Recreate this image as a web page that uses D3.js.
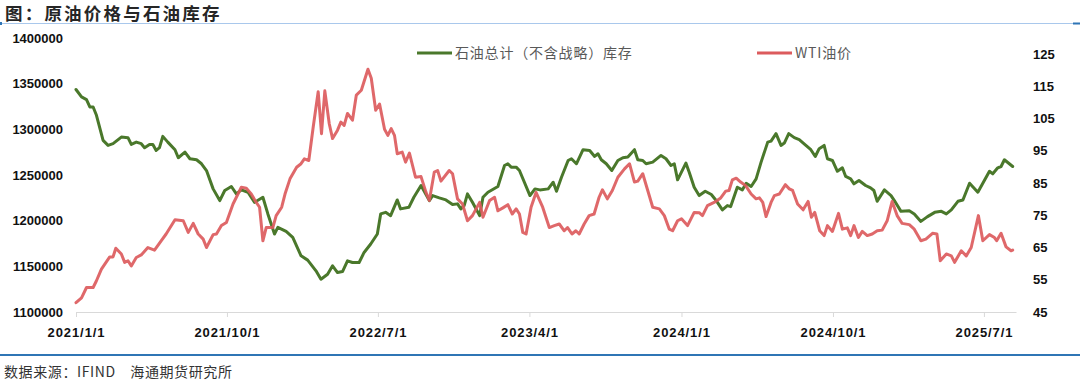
<!DOCTYPE html>
<html><head><meta charset="utf-8">
<script src="https://cdn.jsdelivr.net/npm/d3@7"></script>
<style>body{margin:0;background:#fff;} svg{display:block;}</style>
</head><body>
<svg id="c" width="1080" height="380"></svg>
<script>
const title = "图：原油价格与石油库存";
const source = "数据来源：IFIND\u3000海通期货研究所";
const seriesNames = ["石油总计（不含战略）库存", "WTI油价"];
const xTickLabels = ["2021/1/1","2021/10/1","2022/7/1","2023/4/1","2024/1/1","2024/10/1","2025/7/1"];
const leftTicks = [1100000,1150000,1200000,1250000,1300000,1350000,1400000];
const rightTicks = [45,55,65,75,85,95,105,115,125];

const invDates = ["2021-01-01","2021-01-11","2021-01-20","2021-01-26","2021-02-01","2021-02-07","2021-02-19","2021-02-28","2021-03-09","2021-03-24","2021-04-05","2021-04-11","2021-04-20","2021-04-29","2021-05-05","2021-05-14","2021-05-20","2021-05-26","2021-06-01","2021-06-07","2021-06-16","2021-06-29","2021-07-05","2021-07-17","2021-07-26","2021-08-07","2021-08-16","2021-08-25","2021-09-06","2021-09-18","2021-09-27","2021-10-09","2021-10-18","2021-10-27","2021-11-08","2021-11-20","2021-12-05","2021-12-14","2021-12-26","2022-01-01","2022-01-16","2022-01-28","2022-02-12","2022-02-24","2022-03-11","2022-03-20","2022-04-01","2022-04-10","2022-04-19","2022-04-28","2022-05-07","2022-05-16","2022-05-28","2022-06-06","2022-06-18","2022-06-30","2022-07-06","2022-07-15","2022-07-24","2022-08-05","2022-08-11","2022-08-26","2022-09-04","2022-09-17","2022-10-02","2022-10-08","2022-10-20","2022-11-01","2022-11-13","2022-11-22","2022-11-28","2022-12-04","2022-12-10","2022-12-19","2023-01-01","2023-01-07","2023-01-16","2023-02-03","2023-02-15","2023-02-21","2023-02-27","2023-03-08","2023-03-14","2023-04-02","2023-04-11","2023-04-20","2023-05-05","2023-05-14","2023-05-20","2023-05-29","2023-06-10","2023-06-16","2023-06-25","2023-07-07","2023-07-19","2023-07-28","2023-08-03","2023-08-09","2023-08-18","2023-08-28","2023-09-08","2023-09-17","2023-09-26","2023-10-08","2023-10-14","2023-10-23","2023-10-29","2023-11-10","2023-11-25","2023-12-04","2023-12-13","2023-12-19","2023-12-25","2024-01-09","2024-01-15","2024-01-24","2024-02-02","2024-02-13","2024-02-24","2024-03-03","2024-03-15","2024-03-24","2024-03-30","2024-04-11","2024-04-20","2024-04-27","2024-05-06","2024-05-15","2024-05-24","2024-06-05","2024-06-11","2024-06-20","2024-06-29","2024-07-05","2024-07-13","2024-07-23","2024-08-01","2024-08-13","2024-08-22","2024-08-30","2024-09-06","2024-09-15","2024-09-21","2024-09-30","2024-10-09","2024-10-18","2024-10-24","2024-11-02","2024-11-08","2024-11-17","2024-11-29","2024-12-08","2024-12-14","2024-12-20","2025-01-02","2025-01-14","2025-01-20","2025-02-01","2025-02-16","2025-02-25","2025-03-09","2025-03-21","2025-04-03","2025-04-15","2025-04-24","2025-05-03","2025-05-15","2025-05-24","2025-06-05","2025-06-20","2025-06-29","2025-07-11","2025-07-17","2025-07-26","2025-08-01","2025-08-07","2025-08-22"];
const invValues = [1343600,1335500,1332600,1324500,1324500,1315400,1287900,1282400,1284300,1291500,1290900,1283500,1286000,1284300,1279900,1283500,1283500,1276900,1279900,1292300,1286000,1277700,1268900,1275100,1267800,1266700,1262300,1254900,1234800,1222000,1233000,1237400,1229300,1233700,1231100,1220100,1225600,1207400,1185400,1192600,1188200,1181600,1161500,1156800,1145100,1135900,1141400,1150600,1143200,1144300,1156000,1154200,1154200,1165200,1174400,1185400,1207400,1209100,1205500,1222700,1212900,1214600,1225600,1238500,1222000,1227500,1225000,1222700,1217600,1218400,1212900,1216500,1229300,1220100,1205500,1225600,1231100,1237400,1260400,1262300,1258600,1258600,1254900,1227500,1234800,1233700,1234800,1242100,1232200,1247600,1265900,1267800,1262300,1277700,1276900,1270300,1273300,1266700,1262300,1254900,1265900,1268900,1269600,1277700,1266700,1265900,1262300,1264100,1271400,1267800,1260400,1262300,1244700,1263000,1253100,1236600,1227500,1232200,1228600,1222700,1211800,1216500,1215400,1236600,1233700,1241000,1237400,1245800,1264100,1286000,1287100,1295300,1282400,1285000,1295300,1290900,1288700,1282400,1277700,1270300,1278800,1282400,1267800,1265900,1254100,1257900,1248400,1245800,1240300,1244000,1238500,1235900,1233000,1221200,1233700,1227500,1222000,1210200,1210900,1207400,1199200,1204400,1209100,1210200,1207400,1211800,1221200,1222700,1241000,1231100,1241000,1254100,1251300,1257900,1259300,1266700,1259300];

const wtiDates = ["2021-01-01","2021-01-11","2021-01-20","2021-02-01","2021-02-07","2021-02-16","2021-03-03","2021-03-09","2021-03-14","2021-03-24","2021-03-30","2021-04-05","2021-04-11","2021-04-20","2021-04-29","2021-05-11","2021-05-23","2021-06-04","2021-06-13","2021-06-29","2021-07-14","2021-07-23","2021-08-01","2021-08-10","2021-08-19","2021-08-25","2021-09-06","2021-09-12","2021-09-21","2021-09-30","2021-10-12","2021-10-27","2021-11-05","2021-11-14","2021-11-23","2021-11-29","2021-12-05","2021-12-11","2021-12-23","2021-12-29","2022-01-08","2022-01-14","2022-01-23","2022-02-04","2022-02-12","2022-02-18","2022-02-26","2022-03-06","2022-03-15","2022-03-21","2022-03-27","2022-04-04","2022-04-10","2022-04-19","2022-04-25","2022-05-01","2022-05-07","2022-05-16","2022-05-23","2022-06-01","2022-06-13","2022-06-19","2022-06-27","2022-07-04","2022-07-13","2022-07-19","2022-07-25","2022-07-31","2022-08-05","2022-08-14","2022-08-20","2022-08-27","2022-09-07","2022-09-17","2022-09-26","2022-10-02","2022-10-11","2022-10-17","2022-10-23","2022-11-07","2022-11-13","2022-11-22","2022-12-01","2022-12-10","2022-12-19","2023-01-01","2023-01-07","2023-01-19","2023-01-28","2023-02-03","2023-02-12","2023-02-21","2023-03-01","2023-03-08","2023-03-14","2023-03-20","2023-03-26","2023-04-04","2023-04-13","2023-04-25","2023-05-07","2023-05-16","2023-05-25","2023-06-03","2023-06-09","2023-06-17","2023-06-24","2023-06-30","2023-07-09","2023-07-18","2023-07-27","2023-08-05","2023-08-11","2023-08-20","2023-08-29","2023-09-08","2023-09-20","2023-09-29","2023-10-08","2023-10-14","2023-10-23","2023-11-01","2023-11-10","2023-11-22","2023-12-01","2023-12-10","2023-12-16","2023-12-25","2024-01-01","2024-01-12","2024-01-24","2024-02-02","2024-02-08","2024-02-17","2024-02-29","2024-03-12","2024-03-21","2024-03-27","2024-04-02","2024-04-09","2024-04-17","2024-04-26","2024-05-06","2024-05-15","2024-05-21","2024-05-27","2024-06-02","2024-06-11","2024-06-17","2024-06-26","2024-07-07","2024-07-14","2024-07-20","2024-07-29","2024-08-08","2024-08-17","2024-08-23","2024-08-29","2024-09-07","2024-09-15","2024-09-21","2024-09-30","2024-10-11","2024-10-18","2024-10-27","2024-11-02","2024-11-08","2024-11-16","2024-11-23","2024-12-02","2024-12-11","2024-12-20","2024-12-29","2025-01-07","2025-01-16","2025-01-25","2025-02-03","2025-02-16","2025-02-25","2025-03-09","2025-03-18","2025-03-30","2025-04-07","2025-04-13","2025-04-24","2025-05-03","2025-05-09","2025-05-21","2025-05-30","2025-06-08","2025-06-21","2025-06-29","2025-07-11","2025-07-20","2025-07-24","2025-08-01","2025-08-10","2025-08-19","2025-08-22"];
const wtiValues = [47.9,49.4,52.6,52.6,54.7,58.3,62.1,62.1,64.8,63.0,60.4,60.9,59.3,61.9,62.7,65.0,64.2,67.1,69.2,73.6,73.3,69.7,72.5,69.2,67.6,65.0,69.0,69.2,71.8,72.8,78.5,83.7,83.4,81.6,79.0,77.5,67.1,71.2,71.2,74.9,77.5,81.6,86.3,89.9,91.0,92.5,92.0,102.4,113.3,100.3,113.6,103.4,98.8,101.4,103.9,102.9,106.6,104.5,112.3,113.8,120.3,117.5,107.6,109.5,101.7,99.8,101.9,99.8,94.1,94.6,91.5,94.3,86.8,87.0,82.1,79.6,88.4,88.9,85.6,88.9,87.9,80.1,78.5,73.3,74.9,79.0,74.4,79.6,80.6,76.4,77.3,78.3,75.4,77.0,75.4,69.7,69.2,77.5,82.1,77.5,71.2,71.8,72.3,70.2,71.2,69.2,70.2,69.2,72.3,74.9,75.4,80.6,82.9,80.1,82.7,86.8,89.4,91.0,85.3,85.6,87.9,82.7,77.5,77.0,74.9,70.7,70.2,73.3,73.9,71.8,75.9,75.8,74.9,78.0,79.0,80.4,82.5,82.7,86.0,86.5,85.3,84.2,81.6,80.1,80.4,79.0,74.6,79.0,81.1,81.6,84.5,83.2,82.7,78.5,76.7,79.3,74.4,75.9,70.2,68.7,71.8,70.0,75.6,70.7,71.1,68.7,71.8,68.1,70.0,68.7,69.2,70.2,70.4,73.3,79.3,74.9,72.5,72.1,70.7,67.1,67.6,69.4,69.2,60.9,63.0,62.4,60.4,64.0,62.4,65.0,74.9,67.1,69.0,68.1,67.1,69.4,65.2,64.0,64.2];

const parse = d3.timeParse("%Y-%m-%d");
const parseTick = d3.timeParse("%Y/%m/%d");
const inv = invDates.map((d, i) => ({date: parse(d), v: invValues[i]}));
const wti = wtiDates.map((d, i) => ({date: parse(d), v: wtiValues[i]}));

const svg = d3.select("#c");
const GREEN = "#4a782b", RED = "#dc5b5d";
const numFont = "'Liberation Sans', Arial, sans-serif";
const cjkFont = "'Noto Sans CJK SC', sans-serif";

const x = d3.scaleTime().domain([parse("2021-01-01"), parse("2025-08-28")]).range([76, 1016]);
const yL = d3.scaleLinear().domain([1100000, 1400000]).range([312, 38]);
const yR = d3.scaleLinear().domain([45, 130]).range([312, 38]);

// title
svg.append("text").attr("x", 5).attr("y", 20).text(title)
  .attr("font-family", cjkFont).attr("font-weight", "bold").attr("font-size", 17.5)
  .attr("letter-spacing", 2.2).attr("fill", "#262626");
svg.append("line").attr("x1", 0).attr("x2", 1080).attr("y1", 23.5).attr("y2", 23.5)
  .attr("stroke", "#a9c8ec").attr("stroke-width", 1);
svg.append("rect").attr("x", 0).attr("y", 22).attr("width", 2).attr("height", 3).attr("fill", "#2e75b6");
svg.append("rect").attr("x", 1073).attr("y", 22.5).attr("width", 7).attr("height", 2).attr("fill", "#2e75b6");

// x axis
const xAxis = d3.axisBottom(x)
  .tickValues(xTickLabels.map(s => parseTick(s)))
  .tickFormat((d, i) => xTickLabels[i])
  .tickSizeInner(5).tickSizeOuter(0).tickPadding(11);
const gx = svg.append("g").attr("transform", "translate(0,312)").call(xAxis);
gx.select(".domain").attr("stroke", "#d9d9d9").attr("stroke-width", 1.2);
gx.selectAll(".tick line").attr("stroke", "#d9d9d9");
gx.selectAll(".tick text").attr("font-family", numFont).attr("font-weight", "bold")
  .attr("font-size", 13).attr("letter-spacing", 0.9).attr("fill", "#111");

// left axis
const gl = svg.append("g").attr("transform", "translate(63,0)")
  .call(d3.axisLeft(yL).tickValues(leftTicks).tickFormat(d3.format("d")).tickSize(0).tickPadding(0));
gl.select(".domain").remove();
gl.selectAll(".tick text").attr("font-family", numFont).attr("font-weight", "bold")
  .attr("font-size", 13).attr("fill", "#111");

// right axis
const gr = svg.append("g").attr("transform", "translate(1033,0)")
  .call(d3.axisRight(yR).tickValues(rightTicks).tickFormat(d3.format("d")).tickSize(0).tickPadding(0));
gr.select(".domain").remove();
gr.selectAll(".tick text").attr("font-family", numFont).attr("font-weight", "bold")
  .attr("font-size", 13).attr("fill", "#111");

// lines
const lineL = d3.line().x(d => x(d.date)).y(d => yL(d.v));
const lineR = d3.line().x(d => x(d.date)).y(d => yR(d.v));
svg.append("path").datum(inv).attr("d", lineL).attr("fill", "none")
  .attr("stroke", GREEN).attr("stroke-width", 3).attr("stroke-linejoin", "round").attr("stroke-linecap", "round");
svg.append("path").datum(wti).attr("d", lineR).attr("fill", "none")
  .attr("stroke", RED).attr("stroke-width", 3).attr("stroke-linejoin", "round").attr("stroke-linecap", "round")
  .attr("opacity", 0.92);

// legend
const legend = [
  {name: seriesNames[0], color: GREEN, x: 417},
  {name: seriesNames[1], color: RED, x: 757}
];
legend.forEach(l => {
  svg.append("line").attr("x1", l.x).attr("x2", l.x + 35).attr("y1", 53).attr("y2", 53)
    .attr("stroke", l.color).attr("stroke-width", 3);
  svg.append("text").attr("x", l.x + 38).attr("y", 58).text(l.name)
    .attr("font-family", cjkFont).attr("font-size", 14).attr("letter-spacing", 0.8).attr("fill", "#595959");
});

// footer
svg.append("line").attr("x1", 0).attr("x2", 1080).attr("y1", 355).attr("y2", 355)
  .attr("stroke", "#2f75b5").attr("stroke-width", 2);
svg.append("text").attr("x", 4).attr("y", 377).text(source)
  .attr("font-family", cjkFont).attr("font-size", 14).attr("letter-spacing", 0.6).attr("fill", "#333");
</script>
</body></html>
